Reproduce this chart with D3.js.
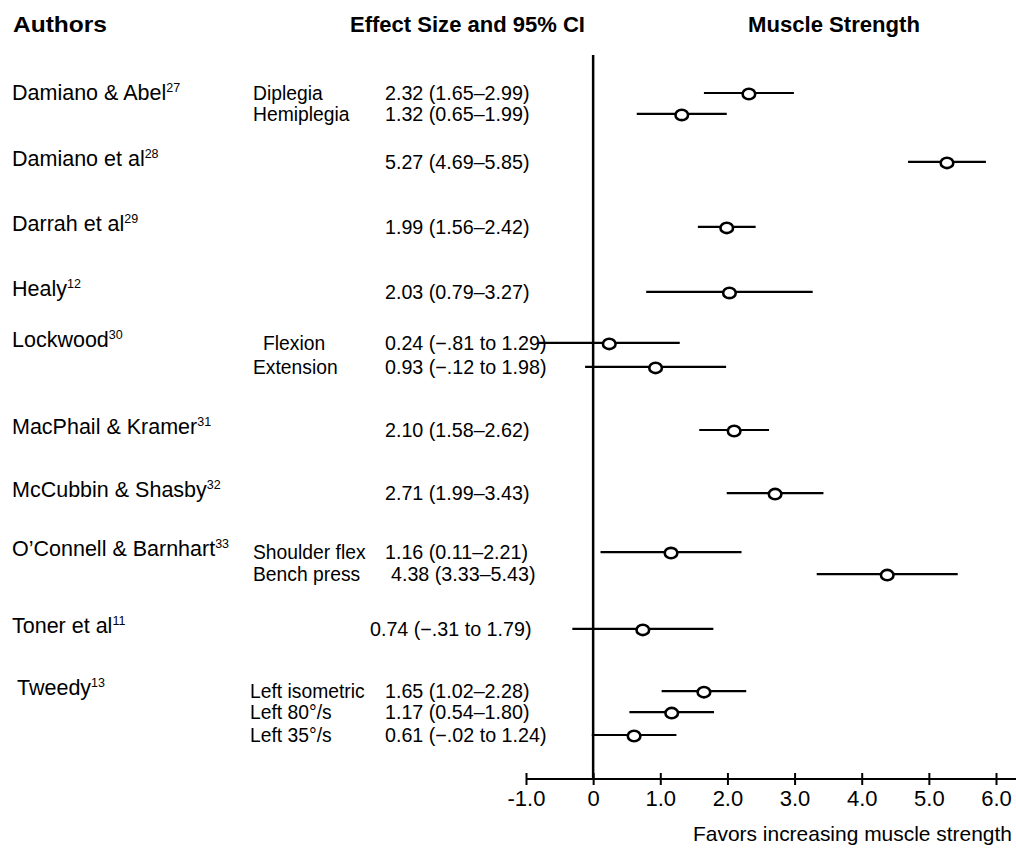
<!DOCTYPE html>
<html>
<head>
<meta charset="utf-8">
<script src="https://cdn.jsdelivr.net/npm/d3@7"></script>
<style>
  html, body { margin: 0; padding: 0; background: #fff; }
  svg { display: block; }
  text { font-family: "Liberation Sans", Arial, Helvetica, sans-serif; fill: #000; }
</style>
</head>
<body>
<svg id="chart" width="1016" height="853"></svg>
<script>
// ---------------- DATA ----------------
const authors   = ["Damiano & Abel", "Damiano et al", "Darrah et al", "Healy", "Lockwood",
                   "MacPhail & Kramer", "McCubbin & Shasby", "O\u2019Connell & Barnhart", "Toner et al", "Tweedy"];
const refs      = ["27", "28", "29", "12", "30", "31", "32", "33", "11", "13"];

// one entry per plotted row
const rowStudy  = [0, 0, 1, 2, 3, 4, 4, 5, 6, 7, 7, 8, 9, 9, 9];
const subgroups = ["Diplegia", "Hemiplegia", "", "", "", "Flexion", "Extension", "", "",
                   "Shoulder flex", "Bench press", "", "Left isometric", "Left 80\u00B0/s", "Left 35\u00B0/s"];
const effect    = [2.32, 1.32, 5.27, 1.99, 2.03, 0.24, 0.93, 2.10, 2.71, 1.16, 4.38, 0.74, 1.65, 1.17, 0.61];
const ciLow     = [1.65, 0.65, 4.69, 1.56, 0.79, -0.81, -0.12, 1.58, 1.99, 0.11, 3.33, -0.31, 1.02, 0.54, -0.02];
const ciHigh    = [2.99, 1.99, 5.85, 2.42, 3.27, 1.29, 1.98, 2.62, 3.43, 2.21, 5.43, 1.79, 2.28, 1.80, 1.24];

const xTicks    = [-1, 0, 1, 2, 3, 4, 5, 6];
const xTickLabels = ["-1.0", "0", "1.0", "2.0", "3.0", "4.0", "5.0", "6.0"];

const headers   = ["Authors", "Effect Size and 95% CI", "Muscle Strength"];
const axisTitle = "Favors increasing muscle strength";

// ---------------- LAYOUT ----------------
// vertical slot of each row (in sub-row units, irregular spacing as in the original)
const rowSlot = [0, 0.97, 3.19, 6.2, 9.21, 11.57, 12.68, 15.6, 18.52, 21.25, 22.27, 24.81, 27.69, 28.66, 29.72];

const svg = d3.select("#chart");
const W = 1016;

const x = d3.scaleLinear().domain([-1, 6]).range([526, 996]);
const y = d3.scaleLinear().domain([0, 29.72]).range([93, 735]);
const axisY = 779;

const fmtNum = v => v.toFixed(2);
const fmtNeg = v => "\u2212" + Math.abs(v).toFixed(2).replace(/^0/, "");
const ciText = i => ciLow[i] < 0
  ? `${fmtNum(effect[i])} (${fmtNeg(ciLow[i])} to ${fmtNum(ciHigh[i])})`
  : `${fmtNum(effect[i])} (${fmtNum(ciLow[i])}\u2013${fmtNum(ciHigh[i])})`;

const rows = effect.map((e, i) => ({
  i, study: rowStudy[i], sub: subgroups[i], es: e, lo: ciLow[i], hi: ciHigh[i], slot: rowSlot[i]
}));

// ---------------- HEADERS ----------------
const headerX = [13, 350, 748];
const headerW = [94, 235, 172];
svg.selectAll("text.header").data(headers).join("text")
  .attr("class", "header")
  .attr("x", (d, i) => headerX[i])
  .attr("y", 32)
  .attr("font-size", 22)
  .attr("font-weight", "bold")
  .attr("textLength", (d, i) => headerW[i])
  .attr("lengthAdjust", "spacingAndGlyphs")
  .text(d => d);

// ---------------- LEFT TEXT COLUMNS ----------------
// author names at the first row of each study
const firstRow = authors.map((a, s) => rowStudy.indexOf(s));
const authG = svg.selectAll("text.author").data(authors).join("text")
  .attr("class", "author")
  .attr("x", (d, s) => s === 9 ? 17 : 12)
  .attr("y", (d, s) => y(rowSlot[firstRow[s]]) + (s === 0 ? 7 : 4))
  .attr("font-size", 21.5);
authG.append("tspan").text(d => d);
authG.append("tspan")
  .attr("font-size", 12.5)
  .attr("dy", -8)
  .text((d, s) => refs[s]);

// subgroup labels
svg.selectAll("text.sub").data(rows.filter(r => r.sub)).join("text")
  .attr("class", "sub")
  .attr("x", d => d.sub === "Flexion" ? 263 : (d.study === 9 ? 250 : 253))
  .attr("y", d => y(d.slot) + 7)
  .attr("font-size", 19.3)
  .text(d => d.sub);

// effect size text
svg.selectAll("text.es").data(rows).join("text")
  .attr("class", "es")
  .attr("x", d => d.study === 8 ? 370 : (d.sub === "Bench press" ? 391 : 385))
  .attr("y", d => y(d.slot) + 7)
  .attr("font-size", 19.7)
  .text(d => ciText(d.i));

// ---------------- PLOT ----------------
// zero line
svg.append("line")
  .attr("x1", x(0)).attr("x2", x(0))
  .attr("y1", 55).attr("y2", axisY)
  .attr("stroke", "#000").attr("stroke-width", 2.5);

// CI lines
svg.selectAll("line.ci").data(rows).join("line")
  .attr("class", "ci")
  .attr("x1", d => x(d.lo)).attr("x2", d => x(d.hi))
  .attr("y1", d => y(d.slot)).attr("y2", d => y(d.slot))
  .attr("stroke", "#000").attr("stroke-width", 2.2);

// point estimates
svg.selectAll("ellipse.pt").data(rows).join("ellipse")
  .attr("class", "pt")
  .attr("cx", d => x(d.es))
  .attr("cy", d => y(d.slot) + 1)
  .attr("rx", 6.3).attr("ry", 5.2)
  .attr("fill", "#fff")
  .attr("stroke", "#000").attr("stroke-width", 2.6);

// ---------------- AXIS ----------------
const axisG = svg.append("g").attr("transform", `translate(0,${axisY})`);
axisG.append("line")
  .attr("x1", x(-1)).attr("x2", W)
  .attr("y1", 0).attr("y2", 0)
  .attr("stroke", "#000").attr("stroke-width", 2);
const axis = d3.axisBottom(x)
  .tickValues(xTicks)
  .tickSize(6)
  .tickPadding(10)
  .tickFormat((d, i) => xTickLabels[i]);
axisG.call(axis);
axisG.select(".domain").remove();
axisG.selectAll(".tick line")
  .attr("y1", -6).attr("y2", 6)
  .attr("stroke", "#000").attr("stroke-width", 2);
axisG.selectAll(".tick text")
  .attr("font-family", "Liberation Sans, Arial, sans-serif")
  .attr("font-size", 22)
  .attr("fill", "#000")
  .attr("dy", null)
  .attr("y", 27);

svg.append("text")
  .attr("x", 693)
  .attr("y", 841)
  .attr("font-size", 21)
  .attr("textLength", 319)
  .attr("lengthAdjust", "spacingAndGlyphs")
  .text(axisTitle);
</script>
</body>
</html>
